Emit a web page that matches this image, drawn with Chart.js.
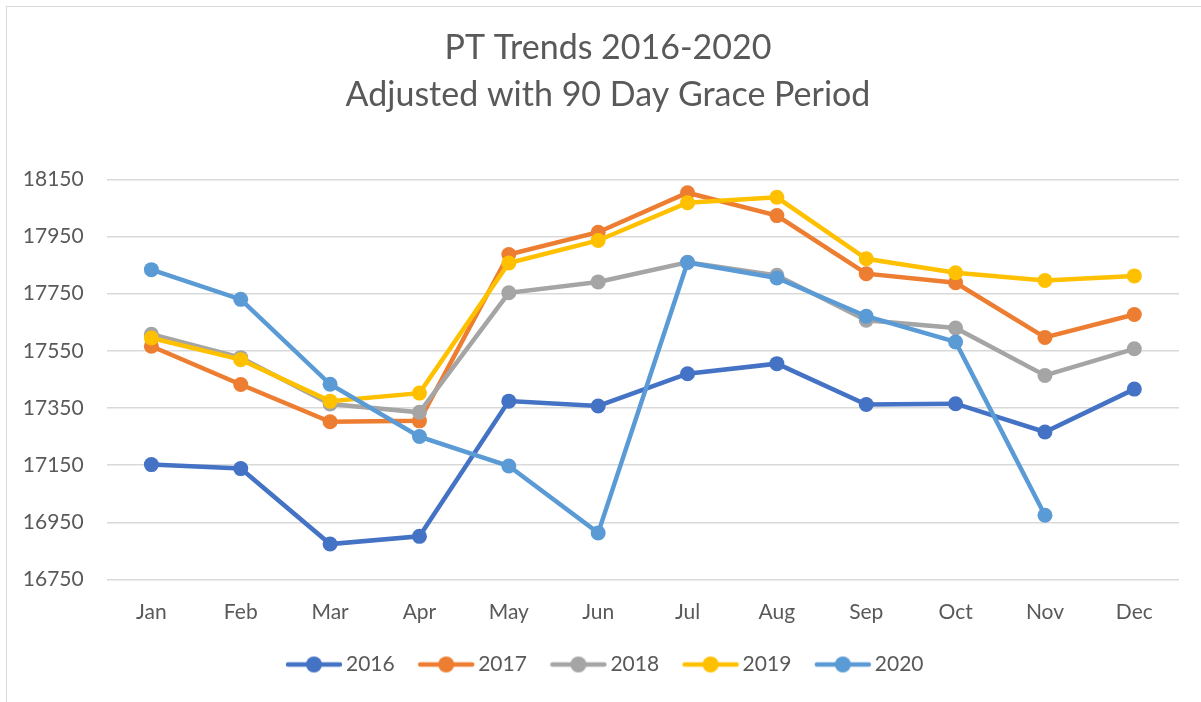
<!DOCTYPE html>
<html>
<head>
<meta charset="utf-8">
<script src="https://cdn.jsdelivr.net/npm/chart.js@4/dist/chart.umd.min.js"></script>
<style>
  html, body { margin: 0; padding: 0; background: #ffffff; overflow: hidden; width: 1201px; height: 702px; }
  #frame { position: absolute; left: 6px; top: 6px; width: 1300px; height: 800px; border-left: 1px solid #d9d9d9; border-top: 1px solid #d9d9d9; }
  #c { position: absolute; left: 6px; top: 6px; }
</style>
</head>
<body>
<div id="frame"></div>
<canvas id="c" width="1204" height="702"></canvas>
<script>
const months = ['Jan','Feb','Mar','Apr','May','Jun','Jul','Aug','Sep','Oct','Nov','Dec'];
const seriesNames = ['2016','2017','2018','2019','2020'];
const s2016 = [17152, 17138, 16874, 16901, 17374, 17357, 17470, 17505, 17362, 17365, 17266, 17416];
const s2017 = [17566, 17432, 17302, 17305, 17887, 17965, 18103, 18023, 17820, 17788, 17597, 17677];
const s2018 = [17608, 17526, 17364, 17335, 17753, 17791, 17860, 17814, 17657, 17630, 17464, 17557];
const s2019 = [17595, 17519, 17374, 17402, 17857, 17936, 18068, 18087, 17872, 17823, 17796, 17812];
const s2020 = [17834, 17730, 17433, 17250, 17147, 16913, 17859, 17805, 17671, 17581, 16975, null];
const yMin = 16750, yMax = 18150, yStep = 200;
const titleLines = ['PT Trends 2016-2020', 'Adjusted with 90 Day Grace Period'];

const colors = ['#4472C4', '#ED7D31', '#A5A5A5', '#FFC000', '#5B9BD5'];
const allData = [s2016, s2017, s2018, s2019, s2020];
const FONT = 'Lato, "Open Sans", sans-serif';
const TEXT = '#595959';

function legendIcon(color) {
  const c = document.createElement('canvas');
  c.width = 58; c.height = 18;
  const g = c.getContext('2d');
  g.strokeStyle = color; g.lineWidth = 4.5; g.lineCap = 'round';
  g.beginPath(); g.moveTo(3, 9); g.lineTo(55, 9); g.stroke();
  g.fillStyle = color;
  g.beginPath(); g.arc(29, 9, 8, 0, Math.PI * 2); g.fill();
  return c;
}
const icons = colors.map(legendIcon);

const datasets = seriesNames.map((name, i) => ({
  label: name,
  data: allData[i],
  borderColor: colors[i],
  backgroundColor: colors[i],
  pointBackgroundColor: colors[i],
  pointBorderColor: colors[i],
  pointBorderWidth: 0,
  pointRadius: 7.5,
  pointHoverRadius: 7.5,
  borderWidth: 4.5,
  tension: 0,
  fill: false,
  yAxisID: 'y',
  order: seriesNames.length - i
}));

new Chart(document.getElementById('c'), {
  type: 'line',
  data: { labels: months, datasets },
  options: {
    responsive: false,
    animation: false,
    devicePixelRatio: 1,
    layout: { padding: { left: 0, right: 0, top: 0, bottom: 23 } },
    plugins: {
      tooltip: { enabled: false },
      title: {
        display: true,
        text: titleLines,
        color: TEXT,
        font: { family: FONT, size: 34, weight: 'normal', lineHeight: 47 / 34 },
        padding: { top: 19, bottom: 60.3 }
      },
      legend: {
        position: 'bottom',
        labels: {
          usePointStyle: true,
          pointStyleWidth: 43,
          padding: 30,
          color: TEXT,
          font: { family: FONT, size: 21 },
          sort: (a, b) => a.datasetIndex - b.datasetIndex,
          generateLabels: (chart) => {
            const items = Chart.defaults.plugins.legend.labels.generateLabels(chart);
            items.forEach(it => { it.pointStyle = icons[it.datasetIndex]; });
            return items;
          }
        }
      }
    },
    scales: {
      x: {
        type: 'category',
        offset: true,
        grid: { display: false },
        border: { display: false },
        ticks: { color: TEXT, font: { family: FONT, size: 21 }, padding: 12, maxRotation: 0 },
        afterFit: (s) => { s.height = 44.5; }
      },
      y: {
        position: 'left',
        min: yMin,
        max: yMax,
        grid: { color: '#d9d9d9', lineWidth: 1.4, drawTicks: false },
        border: { display: false },
        ticks: {
          stepSize: yStep,
          color: TEXT,
          font: { family: FONT, size: 21 },
          padding: 23,
          callback: (v) => String(v)
        },
        afterFit: (s) => { s.width = 100.7; }
      },
      yRight: {
        position: 'right',
        min: yMin,
        max: yMax,
        grid: { display: false },
        border: { display: false },
        ticks: { display: false },
        afterFit: (s) => { s.width = 31; }
      }
    }
  }
});
</script>
</body>
</html>
